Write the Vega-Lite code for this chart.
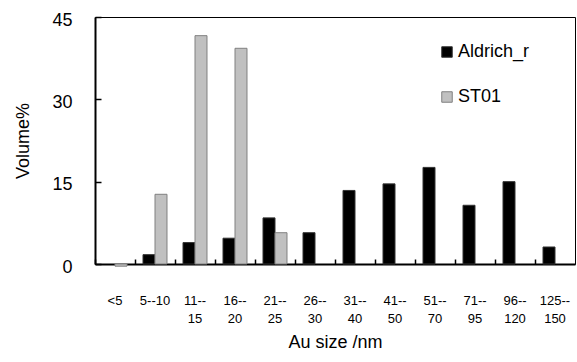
{
  "$schema": "https://vega.github.io/schema/vega-lite/v6.json",
  "width": 480,
  "height": 247,
  "autosize": {"type": "none"},
  "padding": {"left": 95, "top": 17, "right": 2, "bottom": 98},
  "config": {
    "font": "Liberation Sans",
    "view": {"stroke": "#000", "strokeWidth": 1}
  },
  "data": {
    "values": [
      {"size": "<5", "series": "ST01", "value": -0.4},
      {"size": "5--10", "series": "Aldrich_r", "value": 1.7},
      {"size": "5--10", "series": "ST01", "value": 12.7},
      {"size": "11--|15", "series": "Aldrich_r", "value": 3.9},
      {"size": "11--|15", "series": "ST01", "value": 41.6},
      {"size": "16--|20", "series": "Aldrich_r", "value": 4.7},
      {"size": "16--|20", "series": "ST01", "value": 39.3},
      {"size": "21--|25", "series": "Aldrich_r", "value": 8.4},
      {"size": "21--|25", "series": "ST01", "value": 5.7},
      {"size": "26--|30", "series": "Aldrich_r", "value": 5.7},
      {"size": "31--|40", "series": "Aldrich_r", "value": 13.4},
      {"size": "41--|50", "series": "Aldrich_r", "value": 14.6},
      {"size": "51--|70", "series": "Aldrich_r", "value": 17.6},
      {"size": "71--|95", "series": "Aldrich_r", "value": 10.7},
      {"size": "96--|120", "series": "Aldrich_r", "value": 15.0},
      {"size": "125--|150", "series": "Aldrich_r", "value": 3.1}
    ]
  },
  "mark": {"type": "bar", "strokeWidth": 1, "clip": false},
  "encoding": {
    "x": {
      "field": "size",
      "type": "nominal",
      "sort": ["<5", "5--10", "11--|15", "16--|20", "21--|25", "26--|30", "31--|40", "41--|50", "51--|70", "71--|95", "96--|120", "125--|150"],
      "scale": {"paddingInner": 0, "paddingOuter": 0},
      "axis": {
        "title": "Au size /nm",
        "titleFontSize": 18,
        "titleFontWeight": "normal",
        "titleColor": "#000",
        "titlePadding": 8,
        "labelAngle": 0,
        "labelFontSize": 13,
        "labelColor": "#000",
        "labelLineHeight": 18,
        "labelExpr": "split(datum.label, '|')",
        "labelBaseline": "top",
        "bandPosition": 0,
        "labelPadding": 35,
        "domainColor": "#000",
        "domainWidth": 2,
        "tickColor": "#000",
        "tickWidth": 1.5,
        "tickSize": -5
      }
    },
    "xOffset": {
      "field": "series",
      "type": "nominal",
      "sort": ["Aldrich_r", "ST01"],
      "scale": {"paddingInner": 0, "paddingOuter": 0.667}
    },
    "y": {
      "field": "value",
      "type": "quantitative",
      "scale": {"domain": [0, 45], "nice": false, "zero": false},
      "axis": {
        "title": "Volume%",
        "titleFontSize": 18,
        "titleFontWeight": "normal",
        "titleColor": "#000",
        "titlePadding": 19,
        "values": [0, 15, 30, 45],
        "grid": false,
        "labelFontSize": 18,
        "labelColor": "#000",
        "labelOffset": 3,
        "labelPadding": 29,
        "domainColor": "#000",
        "domainWidth": 2,
        "tickColor": "#000",
        "tickWidth": 1.5,
        "tickSize": -6
      }
    },
    "fill": {
      "field": "series",
      "type": "nominal",
      "sort": ["Aldrich_r", "ST01"],
      "scale": {"domain": ["Aldrich_r", "ST01"], "range": ["#000000", "#c0c0c0"]},
      "legend": {
        "title": null,
        "orient": "none",
        "legendX": 343,
        "legendY": 26,
        "symbolType": "square",
        "symbolSize": 110,
        "symbolStrokeWidth": 1,
        "labelFontSize": 18,
        "labelColor": "#000",
        "labelOffset": 2,
        "rowPadding": 27
      }
    },
    "stroke": {
      "field": "series",
      "type": "nominal",
      "sort": ["Aldrich_r", "ST01"],
      "scale": {"domain": ["Aldrich_r", "ST01"], "range": ["#333333", "#808080"]},
      "legend": null
    }
  }
}
